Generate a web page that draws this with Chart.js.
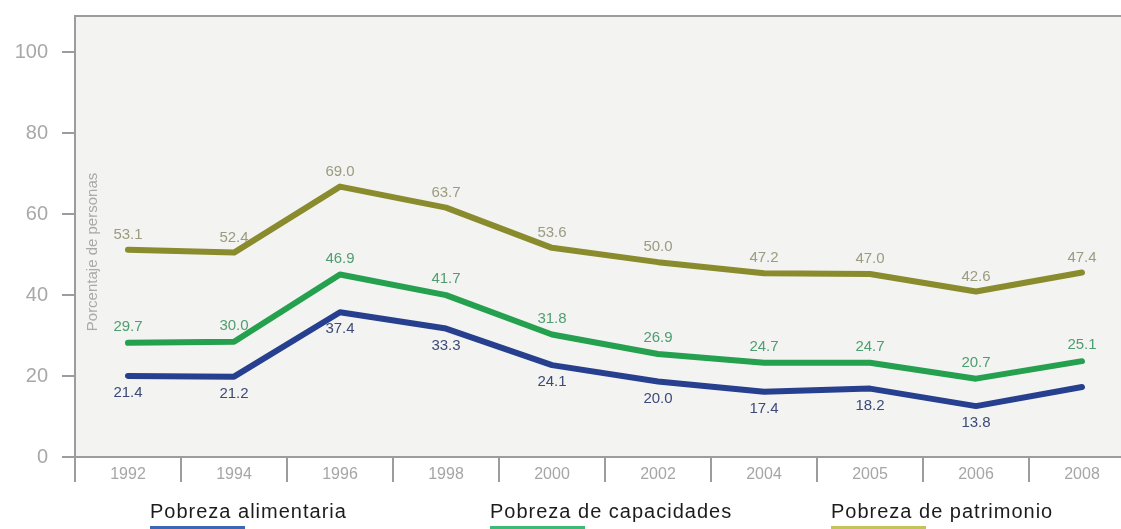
<!DOCTYPE html>
<html>
<head>
<meta charset="utf-8">
<script src="https://cdn.jsdelivr.net/npm/chart.js@4/dist/chart.umd.min.js"></script>
<style>
  html, body { margin: 0; padding: 0; background: #fff; overflow: hidden; }
  #wrap { width: 1140px; height: 529px; }
</style>
</head>
<body>
<div id="wrap"><canvas id="grafica" width="1140" height="529"></canvas></div>
<script>
// datos (porcentaje de personas)
var anios = ['1992', '1994', '1996', '1998', '2000', '2002', '2004', '2005', '2006', '2008'];
var alimentaria = [21.4, 21.2, 37.4, 33.3, 24.1, 20.0, 17.4, 18.2, 13.8, 18.6];
var capacidades = [29.7, 30.0, 46.9, 41.7, 31.8, 26.9, 24.7, 24.7, 20.7, 25.1];
var patrimonio = [53.1, 52.4, 69.0, 63.7, 53.6, 50.0, 47.2, 47.0, 42.6, 47.4];
var ticksY = [0, 20, 40, 60, 80, 100];
// en el original el ultimo punto de alimentaria no lleva etiqueta
var sinEtiqueta = ['0-9'];

var fuente = '"Liberation Sans", Arial, sans-serif';

// fondo gris del area y borde superior
var fondo = {
    id: 'fondo',
    beforeDraw: function (chart) {
        var a = chart.chartArea, c = chart.ctx;
        c.save();
        c.fillStyle = '#f3f3f1';
        c.fillRect(a.left, a.top, a.right - a.left, a.bottom - a.top);
        c.strokeStyle = '#9c9c9c';
        c.lineWidth = 2;
        c.beginPath();
        c.moveTo(a.left, a.top);
        c.lineTo(chart.width, a.top);
        c.stroke();
        // titulo del eje dentro del area
        c.translate(a.left + 18, 252);
        c.rotate(-Math.PI / 2);
        c.fillStyle = '#a9a9a9';
        c.font = '15px ' + fuente;
        c.textAlign = 'center';
        c.textBaseline = 'middle';
        c.fillText('Porcentaje de personas', 0, 0);
        c.restore();
    }
};

// etiquetas de valores
var etiquetas = {
    id: 'etiquetas',
    afterDatasetsDraw: function (chart) {
        var c = chart.ctx;
        c.save();
        c.font = '15px ' + fuente;
        c.textAlign = 'center';
        c.textBaseline = 'middle';
        chart.data.datasets.forEach(function (ds, i) {
            var meta = chart.getDatasetMeta(i);
            c.fillStyle = ds.colorEtiqueta;
            meta.data.forEach(function (p, j) {
                if (sinEtiqueta.indexOf(i + '-' + j) >= 0) return;
                c.fillText(ds.data[j].toFixed(1), p.x, p.y + ds.desplazamiento);
            });
        });
        c.restore();
    }
};

// leyenda con barra debajo del texto
var leyenda = {
    id: 'leyenda',
    afterDraw: function (chart) {
        var c = chart.ctx;
        var pos = [150, 490, 831];
        c.save();
        c.font = '20px ' + fuente;
        c.letterSpacing = '1px';
        c.textAlign = 'left';
        c.textBaseline = 'middle';
        chart.data.datasets.forEach(function (ds, i) {
            c.fillStyle = '#1c1c1c';
            c.fillText(ds.label, pos[i], 512);
            c.fillStyle = ds.colorLeyenda;
            c.fillRect(pos[i], 526, 95, 4);
        });
        c.restore();
    }
};

new Chart(document.getElementById('grafica'), {
    type: 'line',
    data: {
        labels: anios,
        datasets: [{
            label: 'Pobreza alimentaria',
            data: alimentaria,
            borderColor: '#263f8e',
            colorEtiqueta: '#3d4a78',
            colorLeyenda: '#3b68b4',
            desplazamiento: 17,
            yAxisID: 'yv'
        }, {
            label: 'Pobreza de capacidades',
            data: capacidades,
            borderColor: '#24a04f',
            colorEtiqueta: '#4f9d70',
            colorLeyenda: '#3dbb76',
            desplazamiento: -16,
            yAxisID: 'yv'
        }, {
            label: 'Pobreza de patrimonio',
            data: patrimonio,
            borderColor: '#898b2c',
            colorEtiqueta: '#9b9b80',
            colorLeyenda: '#c2c45a',
            desplazamiento: -15,
            yAxisID: 'yv'
        }]
    },
    options: {
        responsive: false,
        animation: false,
        layout: { padding: { top: 16, right: 5, left: 0, bottom: 0 } },
        elements: {
            line: { borderWidth: 6, tension: 0, borderJoinStyle: 'round', borderCapStyle: 'round', fill: false },
            point: { radius: 0, hoverRadius: 0 }
        },
        plugins: {
            legend: { display: false },
            tooltip: { enabled: false }
        },
        scales: {
            x: {
                offset: true,
                grid: { offset: true, drawOnChartArea: false, drawTicks: true, tickLength: 25, color: '#9c9c9c', lineWidth: 2 },
                border: { color: '#9c9c9c', width: 2 },
                ticks: { color: '#a6a6a6', font: { family: fuente, size: 16 }, padding: -17, maxRotation: 0 },
                afterFit: function (s) { s.height = 72; s.paddingLeft = 0; s.paddingRight = 0; }
            },
            y: {
                min: 0,
                max: 108.9,
                afterBuildTicks: function (s) {
                    s.ticks = ticksY.map(function (v) { return { value: v }; });
                },
                grid: { drawOnChartArea: false, drawTicks: true, tickLength: 13, color: '#9c9c9c', lineWidth: 2 },
                border: { color: '#9c9c9c', width: 2 },
                ticks: { color: '#a8a8a8', font: { family: fuente, size: 20 }, padding: 14 },
                afterFit: function (s) { s.width = 75; s.paddingTop = 0; s.paddingBottom = 0; }
            },
            yv: {
                display: false,
                min: 1.0,
                max: 111.9
            }
        }
    },
    plugins: [fondo, etiquetas, leyenda]
});
</script>
</body>
</html>
